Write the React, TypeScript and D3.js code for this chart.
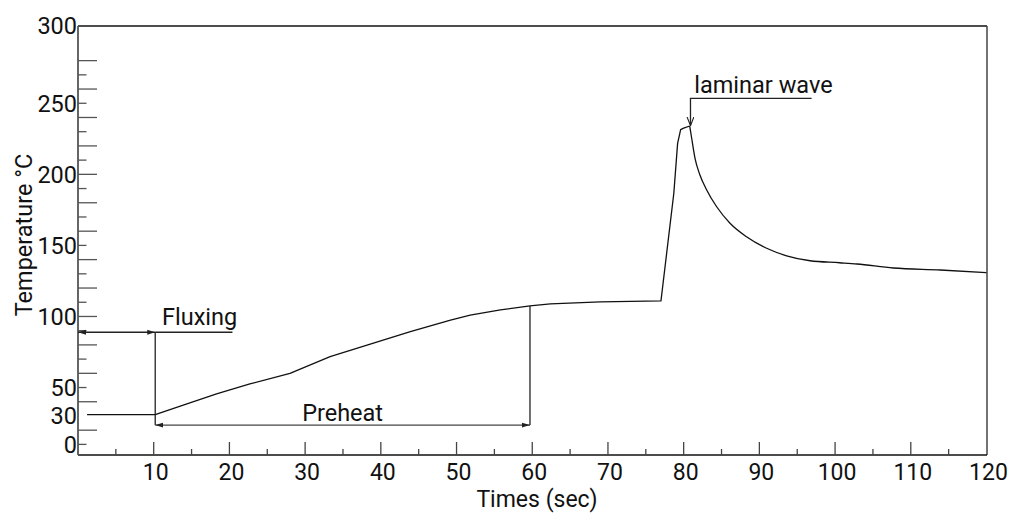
import * as d3 from "d3";

// temperature profile (time in s, temperature in °C)
const times = [1.2, 10.2, 13.9, 18.3, 22.7, 28.0, 33.3, 38.6, 43.9, 49.2, 51.8, 55.8, 59.7, 62.4, 69.0, 77.0, 78.7, 79.2, 79.6, 80.0, 80.8, 81.06, 81.5, 82.15, 83.04, 84.36, 86.12, 88.3, 90.96, 93.6, 96.7, 100.6, 102.9, 107.7, 113.9, 120];
const temps = [31, 31, 37.7, 45.5, 52.5, 60, 71.7, 80.6, 89.3, 97.5, 101, 104.6, 107.4, 108.8, 110.2, 110.9, 186.7, 221.8, 231.5, 232.5, 234, 225.4, 211.3, 199.5, 189, 177.2, 165.6, 156.1, 148, 142.7, 139.2, 137.8, 136.9, 134.1, 132.7, 130.8];

const xTicks = [10, 20, 30, 40, 50, 60, 70, 80, 90, 100, 110, 120];
const yLabels = [0, 30, 50, 100, 150, 200, 250, 300];

// annotation anchors, in data units
const fluxStart = 0;
const fluxEnd = 10.2;
const fluxLineEnd = 20.4;
const fluxLevel = 88.9;
const preheatEnd = 59.7;
const preheatLevel = 23.6;
const preheatTop = 107.4;
const waveTime = 80.9;
const waveLineEnd = 96.9;
const waveLevel = 253.5;
const wavePeak = 234.2;

const width = 1016;
const height = 513;
const frame = { left: 78, right: 987, top: 26, bottom: 455 };
const font = "Roboto, 'Noto Sans', sans-serif";
const fs = 23.5;
const axisFs = 23;

type Pt = { t: number; v: number };

export default function App() {
  const x = d3.scaleLinear().domain([0, 120]).range([78, 986.5]);
  const y = d3.scaleLinear().domain([0, 300]).range([458.6, 32.2]);

  const data: Pt[] = times.map((t, i) => ({ t, v: temps[i] }));
  const peak = d3.maxIndex(temps);

  // heating side is drawn as straight pieces, the cooling side as a smooth curve
  const straight = d3.line<Pt>().x((d) => x(d.t)).y((d) => y(d.v));
  const smooth = d3
    .line<Pt>()
    .x((d) => x(d.t))
    .y((d) => y(d.v))
    .curve(d3.curveMonotoneX);

  const xMinor = d3.range(5, 120, 10);
  const yMajor = d3.range(20, 290, 20);
  const yMinor = d3.range(10, 280, 20).filter((v) => v !== 30);

  // the end labels sit on the frame edge / first tick, like the original
  const labelY = (v: number) =>
    v === 300 ? frame.top : v === 0 ? y(10) : y(v);

  return (
    <svg
      width={width}
      height={height}
      style={{ position: "absolute", left: 0, top: 0, background: "#fff" }}
      fontFamily={font}
    >
      <defs>
        <marker id="arr" viewBox="0 0 8 6" refX={8} refY={3} markerWidth={8} markerHeight={6} markerUnits="userSpaceOnUse" orient="auto-start-reverse">
          <path d="M0,0.6 L8,3 L0,5.4 Z" fill="#222" />
        </marker>
        <marker id="vee" viewBox="0 0 9 8" refX={9} refY={4} markerWidth={9} markerHeight={8} markerUnits="userSpaceOnUse" orient="auto">
          <path d="M0,0.5 L9,4 L0,7.5" fill="none" stroke="#222" strokeWidth={1.1} />
        </marker>
      </defs>

      {/* frame */}
      <line x1={frame.left} x2={frame.right} y1={frame.top} y2={frame.top} stroke="#111" strokeWidth={1.3} />
      <line x1={frame.right} x2={frame.right} y1={frame.top} y2={frame.bottom} stroke="#444" strokeWidth={1.5} />
      <line x1={frame.left} x2={frame.right} y1={frame.bottom} y2={frame.bottom} stroke="#111" strokeWidth={1.5} />
      <line x1={frame.left} x2={frame.left} y1={frame.top} y2={frame.bottom} stroke="#555" strokeWidth={1.8} />

      {/* y ticks */}
      {yMajor.map((v) => (
        <line key={"ym" + v} x1={frame.left} x2={frame.left + 19} y1={y(v)} y2={y(v)} stroke="#555" strokeWidth={1.3} />
      ))}
      {yMinor.map((v) => (
        <line key={"yn" + v} x1={frame.left} x2={frame.left + 8.5} y1={y(v)} y2={y(v)} stroke="#555" strokeWidth={1.3} />
      ))}
      {yLabels.map((v) => (
        <text key={"yl" + v} x={frame.left - 1} y={labelY(v)} dy="0.36em" textAnchor="end" fontSize={fs} fill="#111">
          {v}
        </text>
      ))}

      {/* x ticks */}
      {xTicks.filter((t) => t < 120).map((t) => (
        <line key={"xm" + t} x1={x(t)} x2={x(t)} y1={frame.bottom} y2={frame.bottom - 13} stroke="#444" strokeWidth={1.3} />
      ))}
      {xMinor.map((t) => (
        <line key={"xn" + t} x1={x(t)} x2={x(t)} y1={frame.bottom} y2={frame.bottom - 6} stroke="#444" strokeWidth={1.3} />
      ))}
      {xTicks.map((t) => (
        <text key={"xl" + t} x={x(t) + 2} y={480} textAnchor="middle" fontSize={axisFs} fill="#111">
          {t}
        </text>
      ))}

      {/* axis titles */}
      <text x={537} y={507} textAnchor="middle" fontSize={axisFs} fill="#111">
        Times (sec)
      </text>
      <text transform="translate(31.5,235) rotate(-90)" textAnchor="middle" fontSize={fs} fill="#111">
        Temperature °C
      </text>

      {/* profile */}
      <path d={straight(data.slice(0, peak + 1)) ?? ""} fill="none" stroke="#111" strokeWidth={1.3} strokeLinejoin="round" />
      <path d={smooth(data.slice(peak)) ?? ""} fill="none" stroke="#111" strokeWidth={1.3} strokeLinejoin="round" />

      {/* Fluxing */}
      <line x1={x(fluxStart)} x2={x(fluxEnd)} y1={y(fluxLevel)} y2={y(fluxLevel)} stroke="#222" strokeWidth={1.3} markerStart="url(#arr)" markerEnd="url(#arr)" />
      <line x1={x(fluxEnd)} x2={x(fluxLineEnd)} y1={y(fluxLevel)} y2={y(fluxLevel)} stroke="#222" strokeWidth={1.3} />
      <line x1={x(fluxEnd)} x2={x(fluxEnd)} y1={y(fluxLevel)} y2={y(preheatLevel)} stroke="#222" strokeWidth={1.3} />
      <text x={x(11.1)} y={y(94)} fontSize={fs} fill="#111">
        Fluxing
      </text>

      {/* Preheat */}
      <line x1={x(fluxEnd)} x2={x(preheatEnd)} y1={y(preheatLevel)} y2={y(preheatLevel)} stroke="#444" strokeWidth={1.3} markerStart="url(#arr)" markerEnd="url(#arr)" />
      <line x1={x(preheatEnd)} x2={x(preheatEnd)} y1={y(preheatLevel)} y2={y(preheatTop)} stroke="#222" strokeWidth={1.3} />
      <text x={x(34.95)} y={y(26.5)} textAnchor="middle" fontSize={fs} fill="#111">
        Preheat
      </text>

      {/* laminar wave */}
      <path
        d={`M${x(waveLineEnd)},${y(waveLevel)}H${x(waveTime)}V${y(wavePeak)}`}
        fill="none"
        stroke="#222"
        strokeWidth={1.3}
        markerEnd="url(#vee)"
      />
      <text x={x(81.4)} y={y(257.2)} fontSize={fs} fill="#111">
        laminar wave
      </text>
    </svg>
  );
}
